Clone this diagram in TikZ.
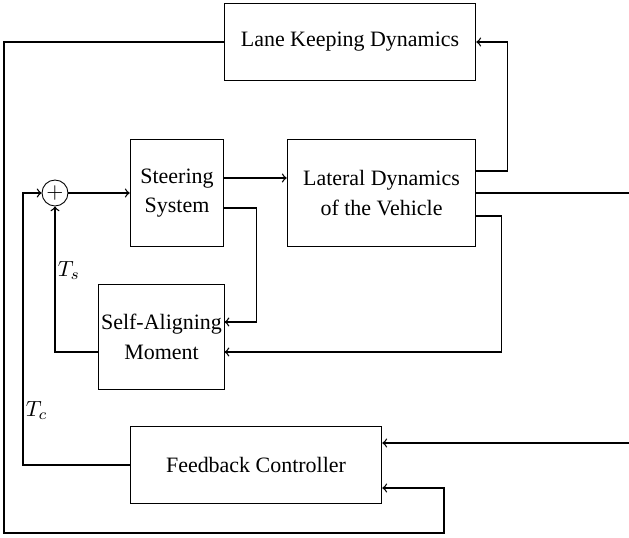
\documentclass[tikz,border=0pt]{standalone}
\usepackage{fontspec}
\setmainfont{Liberation Serif}
\usetikzlibrary{calc}
\begin{document}
\begin{tikzpicture}[x=0.016cm, y=-0.016cm,
		block/.style={draw, align=center, inner sep=1pt, font=\fontsize{10}{13.5}\selectfont},
		sumnode/.style={draw, circle, minimum size=0.416cm, inner sep=0pt},
		conn/.style={semithick},
		>=to]
		\useasboundingbox (0,0) rectangle (629,538);

		%blocks
		\node[block, minimum width=4.03cm, minimum height=1.22cm] (lane) at (350,42) {Lane Keeping Dynamics};
		\node[block, minimum width=1.50cm, minimum height=1.70cm] (steer) at (177,193) {Steering\\System};
		\node[block, minimum width=3.02cm, minimum height=1.70cm] (lat) at (381.5,193) {Lateral Dynamics\\of the Vehicle};
		\node[block, minimum width=2.00cm, minimum height=1.68cm] (sam) at (161.5,337) {Self-Aligning\\Moment};
		\node[block, minimum width=4.03cm, minimum height=1.22cm] (fb) at (256,465) {Feedback Controller};
		\node[sumnode] (sum) at (55,193) {$+$};

		%free ends
		\coordinate (edge) at (629,0);
		\coordinate (outer) at (4,533);
		\coordinate (inner) at (23,193);
		\coordinate (fbin) at ($(fb.east)+(0,-22)$);

		%forward path
		\draw[conn,->] (sum.east) -- (steer.west);
		\draw[conn,->] ($(steer.east)+(0,-15)$) -- ($(lat.west)+(0,-15)$);
		\draw[conn] (lat.east) -- (lat.east -| edge);

		%inner loops
		\draw[conn,->] ($(steer.east)+(0,15)$) -- ++(32,0) |- ($(sam.east)+(0,-15)$);
		\draw[conn,->] ($(lat.east)+(0,23)$) -- ++(25,0) |- ($(sam.east)+(0,15)$);
		\draw[conn,->] ($(sam.west)+(0,15)$) -| node[pos=0.78, right, inner sep=1pt] {$T_s$} (sum.south);

		%lane keeping loop
		\draw[conn,->] ($(lat.east)+(0,-22)$) -- ++(31,0) |- (lane.east);
		\draw[conn,->] (lane.west) -| (outer) -| ++(440,-45) -- ($(fb.east)+(0,23)$);

		%controller
		\draw[conn,->] (fbin -| edge) -- (fbin);
		\draw[conn,->] (fb.west) -| node[pos=0.6, right, inner sep=1pt] {$T_c$} (inner) -- (sum.west);
	\end{tikzpicture}
\end{document}
